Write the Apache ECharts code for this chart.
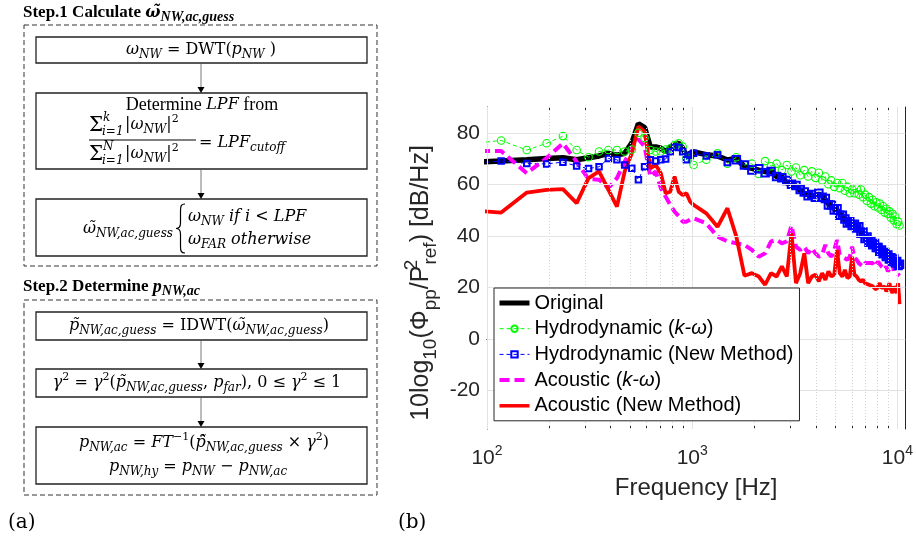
<!DOCTYPE html>
<html>
<head>
<meta charset="utf-8">
<script src="https://cdn.jsdelivr.net/npm/echarts@6/dist/echarts.min.js"></script>
<style>
  html, body { margin: 0; padding: 0; background: #fff; }
  #main { width: 916px; height: 542px; }
</style>
</head>
<body>
<div id="main"></div>
<script>
// frequency bins [Hz] (bins of 39.06 Hz, every bin below 1 kHz, every 4th above)
var freqHz = [78.1, 117.2, 156.3, 195.3, 234.4, 273.4, 312.5, 351.6, 390.6, 429.7, 468.8, 507.8, 546.9, 585.9, 625.0,
  664.1, 703.1, 742.2, 781.3, 820.3, 859.4, 898.4, 937.5, 976.6, 1015.6,
  1171.9, 1328.1, 1484.4, 1640.6, 1796.9, 1953.1, 2109.4, 2265.6, 2421.9, 2578.1, 2734.4, 2890.6, 3046.9, 3203.1,
  3359.4, 3515.6, 3671.9, 3828.1, 3984.4, 4140.6, 4296.9, 4453.1, 4609.4, 4765.6, 4921.9, 5078.1, 5234.4, 5390.6,
  5546.9, 5703.1, 5859.4, 6015.6, 6171.9, 6328.1, 6484.4, 6640.6, 6796.9, 6953.1, 7109.4, 7265.6, 7421.9, 7578.1,
  7734.4, 7890.6, 8046.9, 8203.1, 8359.4, 8515.6, 8671.9, 8828.1, 8984.4, 9140.6, 9296.9, 9453.1, 9609.4, 9765.6,
  9921.9, 10078.1, 10234.4];

var original = [68.5, 69, 69.5, 70, 70.3, 69.5, 70.3, 71, 72, 71.3, 72, 76, 83.5, 82, 74.5,
  74.5, 74, 72.6, 74.5, 75.2, 76, 74, 70.7, 72, 72.6,
  71.5, 71, 69.4, 70, 66.8, 66.2, 65.5, 64.9, 65.2, 63, 62.8, 60.5, 60.4, 59.3,
  57.5, 56.5, 56, 55.5, 55.5, 56.2, 55.5, 54, 52.5, 51.5, 50.5, 50, 48.5, 47.5,
  46, 45.5, 45, 44.5, 44, 43.5, 43, 41.5, 41, 39.5, 39, 38, 37.5, 37,
  36.5, 36, 35, 34.5, 34, 33.5, 33, 32.5, 32, 31.5, 31, 30.5, 30.5, 30,
  29.5, 29, 28.5];

var hydroKw = [75.6, 77, 73.3, 75.9, 78.7, 73.3, 70.5, 72.7, 73.3, 73.3, 72.7, 73.5, 80, 78, 73.3,
  72.7, 72.7, 73.5, 73.9, 75.2, 75.9, 74.6, 70.1, 70.5, 67.5,
  69.5, 72, 68, 70.5, 67.5, 68, 64, 69, 67, 68, 65.5, 67.5, 65, 66.5,
  63.5, 65.5, 63, 65, 62.5, 64.5, 61.5, 63, 60, 61.5, 59, 60.5, 58.5, 60.5,
  57.5, 59, 56.5, 58, 56.5, 58.5, 56, 58, 55, 56, 53.5, 55, 52.5, 54,
  51.5, 53, 51, 52.5, 50, 51.5, 49, 50.5, 48.5, 49.5, 47, 48.5, 46, 47.5,
  44.5, 45.5, 44];

var hydroNew = [68, 69, 68.1, 67.9, 68.6, 67.1, 66.1, 66.8, 70, 69.5, 67.5, 66.2, 61.8, 66.8, 69.5,
  69, 69.5, 69.8, 72.6, 74.5, 74.3, 72.6, 69.5, 71.3, 72,
  71, 71.5, 68.5, 69.5, 67.5, 65.5, 66, 64.5, 65, 63, 62.5, 61.5, 60, 59.5,
  58, 57, 55.5, 56, 55, 56.5, 55, 54.5, 52, 52, 50, 50.5, 48, 48,
  46.5, 45, 45.5, 44, 44.5, 43, 43.5, 41, 41.5, 39, 39.5, 37.5, 38, 36.5,
  37, 35.5, 35.5, 34, 34.5, 33, 33.5, 32, 32.5, 31, 31.5, 30, 31, 29.5,
  30, 28.5, 29];

var acousticKw = [72.9, 72.9, 64.3, 70.2, 75.9, 68.8, 62, 61.8, 58.5, 62.4, 68.8, 74, 77.5, 74.7, 63,
  65, 58.5, 55.2, 52, 49.4, 47.7, 45.5, 45.5, 46.3, 46.8,
  44.8, 39.7, 37.8, 37.1, 36.5, 34.5, 31.9, 33.2, 37.8, 38.4, 37.1, 37.8, 44, 35.8,
  34.5, 35.8, 33.2, 35.2, 33.2, 31.9, 32.6, 36.5, 33.2, 31.9, 34.5, 38.4, 32.6, 31.9,
  31.3, 30.7, 31.9, 35.8, 31.3, 30.7, 29.4, 28.7, 28.1, 29.4, 28.7, 29.4, 28.7, 29.4,
  28.1, 28.7, 30.0, 29.4, 28.1, 28.7, 26.8, 28.1, 26.2, 26.8, 28.1, 29.4, 26.2, 26.8,
  25.5, 26.2, 24.5];

var acousticNew = [50, 49, 56.8, 57.8, 58.1, 52.7, 62.4, 65, 57.8, 51.3, 65, 72, 82.4, 80.5, 66.2,
  67.5, 64.3, 56.5, 57.1, 63, 57.1, 55.8, 56.5, 53.3, 52,
  48.7, 43.5, 50.7, 39.7, 24.5, 25.5, 24.2, 21.0, 25.5, 24.2, 28.1, 24.2, 41, 21.6,
  25.5, 33.2, 21.6, 24.2, 24.9, 22.3, 25.5, 22.9, 26.2, 24.2, 24.9, 34.5, 25.5, 24.2,
  26.8, 23.6, 24.2, 31.9, 24.9, 24.2, 22.9, 22.3, 22.9, 21.6, 22.3, 21.0, 21.6, 20.4,
  21.0, 19.1, 20.4, 21.6, 19.7, 19.1, 20.4, 18.4, 19.7, 21.6, 19.1, 17.8, 20.4, 19.7,
  17.8, 21.6, 13.5];

var seriesNames = ['Original', 'Hydrodynamic (k-ω)', 'Hydrodynamic (New Method)', 'Acoustic (k-ω)', 'Acoustic (New Method)'];
var yTicks = [-20, 0, 20, 40, 60, 80];
var xMajor = [100, 1000, 10000];
var xMinor = [200, 300, 400, 500, 600, 700, 800, 900, 2000, 3000, 4000, 5000, 6000, 7000, 8000, 9000];

function pairs(vals) {
  var out = [];
  for (var i = 0; i < vals.length; i++) out.push([freqHz[i], vals[i]]);
  return out;
}

var SANS = 'Liberation Sans';
var SERIF = 'DejaVu Serif';
var TIMES = 'Liberation Serif';
var AX = '#262626';

// rich styles for the flowchart formulas
var RICH = {
  r: { fontFamily: SERIF, fontSize: 16, lineHeight: 22, fill: '#000' },
  t: { fontFamily: TIMES, fontSize: 18, lineHeight: 22, fill: '#000' },
  m: { fontFamily: SERIF, fontSize: 16, fontStyle: 'italic', lineHeight: 22, fill: '#000' },
  s: { fontFamily: SERIF, fontSize: 12, fontStyle: 'italic', verticalAlign: 'bottom', fill: '#000' },
  p: { fontFamily: SERIF, fontSize: 11, verticalAlign: 'top', fill: '#000' },
  big: { fontFamily: SERIF, fontSize: 20, lineHeight: 22, fill: '#000' },
  tb: { fontFamily: TIMES, fontSize: 17, fontWeight: 'bold', lineHeight: 22, fill: '#000' },
  tm: { fontFamily: TIMES, fontSize: 18, fontWeight: 'bold', fontStyle: 'italic', lineHeight: 22, fill: '#000' },
  tw: { fontFamily: SERIF, fontSize: 16, fontWeight: 'bold', fontStyle: 'italic', lineHeight: 22, fill: '#000' },
  ts: { fontFamily: TIMES, fontSize: 14, fontWeight: 'bold', fontStyle: 'italic', verticalAlign: 'bottom', fill: '#000' }
};

function txt(x, y, text, align) {
  return {
    type: 'text', x: x, y: y, z: 10,
    style: { text: text, rich: RICH, align: align || 'center', verticalAlign: 'middle',
      textAlign: align || 'center', textVerticalAlign: 'middle' }
  };
}
function box(y, h, dashed) {
  var b = {
    type: 'rect', z: 5,
    shape: dashed ? { x: 24, y: y, width: 353, height: h } : { x: 36, y: y, width: 331, height: h },
    style: { fill: 'none', stroke: dashed ? '#333' : '#222', lineWidth: dashed ? 1 : 1.3 }
  };
  if (dashed) b.style.lineDash = [5, 3];
  return b;
}
function arrow(y1, y2) {
  return [
    { type: 'line', z: 5, shape: { x1: 201, y1: y1, x2: 201, y2: y2 - 5 }, style: { stroke: '#555', lineWidth: 0.8 } },
    { type: 'polygon', z: 5, shape: { points: [[197.5, y2 - 6], [204.5, y2 - 6], [201, y2]] }, style: { fill: '#000' } }
  ];
}
function curve(x1, y1, c1x, c1y, c2x, c2y, x2, y2) {
  return { type: 'bezierCurve', z: 5,
    shape: { x1: x1, y1: y1, cpx1: c1x, cpy1: c1y, cpx2: c2x, cpy2: c2y, x2: x2, y2: y2 },
    style: { fill: 'none', stroke: '#000', lineWidth: 1.2 } };
}
function seg(x1, y1, x2, y2) {
  return { type: 'line', z: 5, shape: { x1: x1, y1: y1, x2: x2, y2: y2 }, style: { stroke: '#000', lineWidth: 1.2 } };
}

var W = 'ω\u0303';
var P = 'p\u0303';
var flow = [
  txt(23, 13, '{tb|Step.1 Calculate }{tw|' + W + '}{ts|NW,ac,guess}', 'left'),
  box(25, 241, true),
  box(37, 26),
  txt(201, 50, '{m|ω}{s|NW}{r| = DWT(}{m|p}{s|NW}{r| )}'),
  box(93, 76),
  txt(202, 105, '{t|Determine }{m|LPF}{t| from}'),
  txt(89, 126, '{big|Σ}', 'left'),
  txt(103, 118, '{s|k}', 'left'),
  txt(102, 132, '{s|i=1}', 'left'),
  txt(125, 125, '{r||}{m|ω}{s|NW}{r||}{p|2}', 'left'),
  seg(89, 140, 196, 140),
  txt(89, 155, '{big|Σ}', 'left'),
  txt(103, 147, '{s|N}', 'left'),
  txt(102, 161, '{s|i=1}', 'left'),
  txt(125, 154, '{r||}{m|ω}{s|NW}{r||}{p|2}', 'left'),
  txt(199, 143, '{r|= }{m|LPF}{s|cutoff}', 'left'),
  box(199, 57),
  txt(173, 229, '{m|' + W + '}{s|NW,ac,guess}', 'right'),
  curve(185, 204, 181, 204, 180.5, 206, 180.5, 211),
  seg(180.5, 211, 180.5, 223),
  curve(180.5, 223, 180.5, 226.5, 179.5, 228.5, 176, 228.5),
  curve(176, 228.5, 179.5, 228.5, 180.5, 230.5, 180.5, 234),
  seg(180.5, 234, 180.5, 246),
  curve(180.5, 246, 180.5, 251, 181, 253, 185, 253),
  txt(188, 217, '{m|ω}{s|NW}{m| if i }{r|< }{m|LPF}', 'left'),
  txt(188, 240, '{m|ω}{s|FAR}{m| otherwise}', 'left'),

  txt(23, 287, '{tb|Step.2 Determine }{tm|p}{ts|NW,ac}', 'left'),
  box(300, 195, true),
  box(312, 28),
  txt(199, 326, '{m|' + P + '}{s|NW,ac,guess}{r| = IDWT(}{m|' + W + '}{s|NW,ac,guess}{r|)}'),
  box(369, 28),
  txt(197, 383, '{m|γ}{p|2}{r| = }{m|γ}{p|2}{r|(}{m|' + P + '}{s|NW,ac,guess}{r|, }{m|p}{s|far}{r|), 0 ≤ }{m|γ}{p|2}{r| ≤ 1}'),
  box(427, 57),
  txt(204, 443, '{m|p}{s|NW,ac}{r| = }{m|FT}{p|−1}{r|(}{m|p\u0303\u0302}{s|NW,ac,guess}{r| × }{m|γ}{p|2}{r|)}'),
  txt(198, 467, '{m|p}{s|NW,hy}{r| = }{m|p}{s|NW}{r| − }{m|p}{s|NW,ac}'),

  { type: 'text', x: 8, y: 523, style: { text: '(a)', fontFamily: SERIF, fontSize: 20, fill: '#000', align: 'left', verticalAlign: 'middle', textAlign: 'left', textVerticalAlign: 'middle' } },
  { type: 'text', x: 398, y: 523, style: { text: '(b)', fontFamily: SERIF, fontSize: 20, fill: '#000', align: 'left', verticalAlign: 'middle', textAlign: 'left', textVerticalAlign: 'middle' } },
  { type: 'text', x: 421, y: 283, rotation: Math.PI / 2, z: 10,
    style: {
      text: '{a|10log}{s|10}{a|(Φ}{s|pp}{a|/P}{p|2}{s|ref}{a|) [dB/Hz]}',
      align: 'center', verticalAlign: 'middle', textAlign: 'center', textVerticalAlign: 'middle',
      rich: {
        a: { fontFamily: SANS, fontSize: 25, lineHeight: 38, fill: AX },
        s: { fontFamily: SANS, fontSize: 19, verticalAlign: 'bottom', fill: AX },
        p: { fontFamily: SANS, fontSize: 19, verticalAlign: 'top', width: 1, fill: AX }
      }
    } }
];
flow = flow.concat(arrow(63, 93), arrow(169, 199), arrow(340, 369), arrow(397, 427));

// grid lines drawn as marker lines under the data
var gridLines = [];
xMajor.forEach(function (v) { gridLines.push({ xAxis: v, lineStyle: { color: '#e3e3e3', type: 'solid', width: 1 } }); });
xMinor.forEach(function (v) { gridLines.push({ xAxis: v, lineStyle: { color: '#d4d4d4', type: [1, 2], width: 1 } }); });
yTicks.forEach(function (v) { gridLines.push({ yAxis: v, lineStyle: { color: '#e3e3e3', type: 'solid', width: 1 } }); });

function logLabel(v) {
  var e = Math.log10(v);
  if (Math.abs(e - Math.round(e)) > 1e-6) return '';
  return '{b|10}{t|' + Math.round(e) + '}';
}

var xBase = { type: 'log', logBase: 10, min: 100, max: 10930, gridIndex: 0, splitLine: { show: false } };
function xAx(extra) { return Object.assign({}, xBase, extra); }

var hideSym = { opacity: 0 };
var chart = echarts.init(document.getElementById('main'));
chart.setOption({
  animation: false,
  backgroundColor: '#fff',
  graphic: { elements: flow },
  grid: { left: 487, top: 107, width: 421, height: 322, containLabel: false },
  xAxis: [
    xAx({
      position: 'bottom',
      axisLine: { show: true, lineStyle: { color: AX, width: 1 } },
      axisTick: { show: true, inside: true, length: 5, lineStyle: { color: AX } },
      axisLabel: {
        margin: 15, formatter: logLabel,
        rich: {
          b: { fontFamily: SANS, fontSize: 21, color: AX, lineHeight: 28 },
          t: { fontFamily: SANS, fontSize: 14, color: AX, verticalAlign: 'top' }
        }
      },
      name: 'Frequency [Hz]', nameLocation: 'middle', nameGap: 47,
      nameTextStyle: { fontFamily: SANS, fontSize: 24, color: AX }
    }),
    xAx({
      position: 'top',
      axisLine: { show: true, lineStyle: { color: AX, width: 1 } },
      axisTick: { show: true, inside: true, length: 5, lineStyle: { color: AX } },
      axisLabel: { show: false }
    }),
    xAx({
      position: 'bottom', axisLine: { show: false }, axisLabel: { show: false },
      axisTick: { show: true, inside: true, length: 3, customValues: xMinor, lineStyle: { color: AX } }
    }),
    xAx({
      position: 'top', axisLine: { show: false }, axisLabel: { show: false },
      axisTick: { show: true, inside: true, length: 3, customValues: xMinor, lineStyle: { color: AX } }
    })
  ],
  yAxis: [
    {
      type: 'value', min: -35, max: 90, position: 'left',
      axisLine: { show: true, lineStyle: { color: AX, width: 1 } },
      axisTick: { show: true, inside: true, length: 5, customValues: yTicks, lineStyle: { color: AX } },
      axisLabel: { customValues: yTicks, margin: 7, fontFamily: SANS, fontSize: 21, color: AX },
      splitLine: { show: false }
    },
    {
      type: 'value', min: -35, max: 90, position: 'right',
      axisLine: { show: true, lineStyle: { color: AX, width: 1 } },
      axisTick: { show: true, inside: true, length: 5, customValues: yTicks, lineStyle: { color: AX } },
      axisLabel: { show: false },
      splitLine: { show: false }
    }
  ],
  legend: {
    data: [
      { name: seriesNames[0], itemStyle: hideSym, lineStyle: { width: 5 } },
      { name: seriesNames[1], lineStyle: { width: 1 } },
      { name: seriesNames[2], lineStyle: { width: 1 } },
      { name: seriesNames[3], itemStyle: hideSym, lineStyle: { width: 4 } },
      { name: seriesNames[4], itemStyle: hideSym, lineStyle: { width: 3.5 } }
    ],
    orient: 'vertical', left: 494, top: 288,
    itemWidth: 30, itemHeight: 8, itemGap: 5.7,
    padding: [5, 6, 5, 3],
    borderColor: AX, borderWidth: 1, backgroundColor: '#fff',
    inactiveColor: '#ccc',
    formatter: function (name) { return name.replace('k-ω', '{i|k-ω}'); },
    textStyle: {
      fontFamily: SANS, fontSize: 20, lineHeight: 20, color: '#000',
      rich: { i: { fontFamily: SANS, fontSize: 20, lineHeight: 20, fontStyle: 'italic', color: '#000' } }
    },
    z: 20
  },
  series: [
    {
      name: 'grid', type: 'line', data: [], silent: true, z: 1,
      markLine: { silent: true, symbol: 'none', label: { show: false }, animation: false, data: gridLines }
    },
    {
      name: seriesNames[0], type: 'line', data: pairs(original), symbol: 'none', z: 2,
      lineStyle: { color: '#000', width: 5.5 }, itemStyle: { color: '#000' }
    },
    {
      name: seriesNames[1], type: 'line', data: pairs(hydroKw), symbol: 'circle', symbolSize: 7.5, showSymbol: true, z: 2,
      lineStyle: { color: '#00ff00', width: 1, type: [4, 3] },
      itemStyle: { color: 'rgba(0,0,0,0)', borderColor: '#00ff00', borderWidth: 1.1 }
    },
    {
      name: seriesNames[2], type: 'line', data: pairs(hydroNew), symbol: 'rect', showSymbol: true, z: 2,
      symbolSize: function (v) { return v[0] > 1500 ? 7.5 : 5.5; },
      lineStyle: { color: '#0000ff', width: 1, type: [4, 3] },
      itemStyle: { color: 'rgba(0,0,0,0)', borderColor: '#0000ff', borderWidth: 2 }
    },
    {
      name: seriesNames[3], type: 'line', data: pairs(acousticKw), symbol: 'none', z: 2,
      lineStyle: { color: '#ff00ff', width: 4, type: [10, 5] }, itemStyle: { color: '#ff00ff' }
    },
    {
      name: seriesNames[4], type: 'line', data: pairs(acousticNew), symbol: 'none', z: 2,
      lineStyle: { color: '#ff0000', width: 3.8 }, itemStyle: { color: '#ff0000' }
    }
  ]
});
</script>
</body>
</html>
